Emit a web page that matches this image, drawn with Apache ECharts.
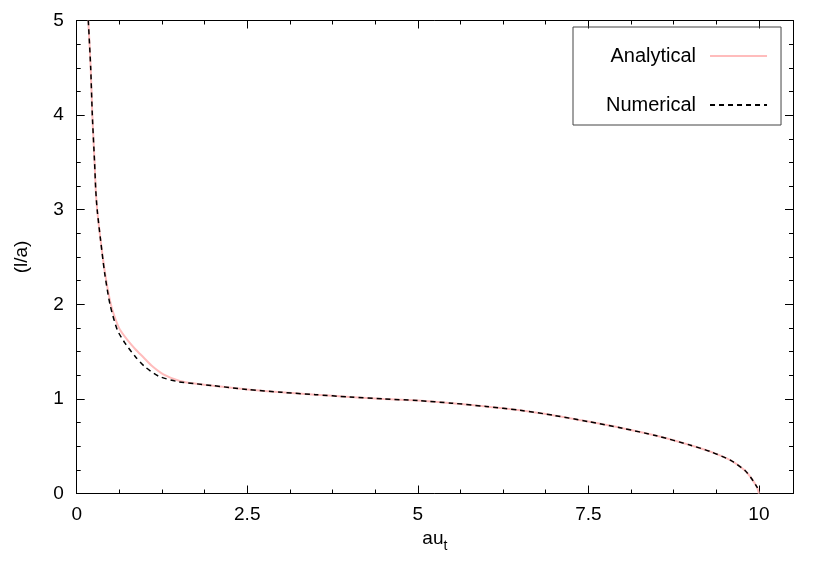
<!DOCTYPE html>
<html>
<head>
<meta charset="utf-8">
<script src="https://cdn.jsdelivr.net/npm/echarts@6/dist/echarts.min.js"></script>
<style>
html,body{margin:0;padding:0;background:#fff;}
#chart{width:830px;height:581px;}
</style>
</head>
<body>
<div id="chart"></div>
<script>
// Data
const analyticalX = [0.17, 0.205, 0.229, 0.262, 0.28, 0.30, 0.35, 0.415, 0.50, 0.565, 0.635, 0.757, 0.86, 0.977, 1.10, 1.27, 1.51, 1.75, 2.0, 2.5, 3.0, 3.5, 4.0, 4.5, 5.0, 5.5, 6.0, 6.5, 7.0, 7.5, 8.0, 8.5, 9.0, 9.3, 9.6, 9.8, 9.9, 9.97, 10.0];
const analyticalY = [5.0, 4.5, 4.0, 3.5, 3.2, 3.0, 2.68, 2.33, 2.0, 1.85, 1.73, 1.61, 1.525, 1.44, 1.35, 1.26, 1.19, 1.16, 1.14, 1.10, 1.07, 1.045, 1.02, 1.0, 0.982, 0.955, 0.92, 0.88, 0.825, 0.76, 0.69, 0.61, 0.51, 0.44, 0.345, 0.24, 0.15, 0.07, 0.0];
const numericalX = [0.17, 0.205, 0.229, 0.262, 0.28, 0.30, 0.35, 0.41, 0.488, 0.595, 0.708, 0.855, 1.0, 1.2, 1.5, 1.75, 2.0, 2.5, 3.0, 3.5, 4.0, 4.5, 5.0, 5.5, 6.0, 6.5, 7.0, 7.5, 8.0, 8.5, 9.0, 9.3, 9.6, 9.8, 9.9, 9.98];
const numericalY = [5.0, 4.5, 4.0, 3.5, 3.2, 3.0, 2.68, 2.33, 2.0, 1.73, 1.59, 1.45, 1.34, 1.24, 1.18, 1.16, 1.14, 1.10, 1.07, 1.045, 1.02, 1.0, 0.982, 0.955, 0.92, 0.88, 0.825, 0.76, 0.69, 0.61, 0.51, 0.44, 0.345, 0.24, 0.15, 0.06];
const seriesNames = ['Analytical', 'Numerical'];
const xTickValues = [0, 2.5, 5, 7.5, 10];
const yTickValues = [0, 1, 2, 3, 4, 5];

const toPairs = (xs, ys) => xs.map((x, i) => [x, ys[i]]);

const FONT = 'Liberation Sans, Arial, Helvetica, sans-serif';
const chart = echarts.init(document.getElementById('chart'), null, {renderer: 'canvas'});

const baseTick = {show: true, inside: true, length: 8, lineStyle: {color: '#000', width: 1}};
const baseMinor = {show: true, splitNumber: 4, length: 4, lineStyle: {color: '#000', width: 1}};

const option = {
  backgroundColor: '#fff',
  animation: false,
  grid: {left: 76.7, right: 37, top: 20.5, bottom: 87.5, containLabel: false},
  legend: {
    orient: 'vertical',
    left: 573,
    top: 27,
    align: 'right',
    data: seriesNames,
    itemWidth: 57,
    itemHeight: 20,
    itemGap: 29,
    padding: [19, 13, 10, 33],
    borderColor: '#444',
    borderWidth: 1,
    borderRadius: 0,
    itemStyle: {opacity: 0},
    textStyle: {fontFamily: FONT, fontSize: 20, color: '#000', padding: [0, 9, 0, 0]}
  },
  xAxis: [{
    type: 'value', min: 0, max: 10.5, interval: 2.5,
    name: '{a|au}{t|t}', nameLocation: 'middle', nameGap: 28,
    nameTextStyle: {rich: {a: {fontFamily: FONT, fontSize: 19, color: '#000', lineHeight: 20}, t: {fontFamily: FONT, fontSize: 14, color: '#000', padding: [14, 0, 0, 0]}}},
    axisLine: {show: true, onZero: false, lineStyle: {color: '#000', width: 1}},
    axisTick: baseTick,
    minorTick: baseMinor,
    splitLine: {show: false},
    axisLabel: {fontFamily: FONT, fontSize: 19, color: '#000', margin: 12,
      formatter: v => xTickValues.includes(v) ? String(v) : ''}
  }, {
    type: 'value', position: 'top', min: 0, max: 10.5, interval: 2.5,
    axisLine: {show: true, onZero: false, lineStyle: {color: '#000', width: 1}},
    axisTick: baseTick, minorTick: baseMinor,
    splitLine: {show: false}, axisLabel: {show: false}
  }],
  yAxis: [{
    type: 'value', min: 0, max: 5, interval: 1,
    name: '(l/a)', nameLocation: 'middle', nameGap: 45, nameRotate: 90,
    nameTextStyle: {fontFamily: FONT, fontSize: 19, color: '#000'},
    axisLine: {show: true, onZero: false, lineStyle: {color: '#000', width: 1}},
    axisTick: baseTick, minorTick: baseMinor,
    splitLine: {show: false},
    axisLabel: {fontFamily: FONT, fontSize: 19, color: '#000', margin: 13,
      formatter: v => yTickValues.includes(v) ? String(v) : ''}
  }, {
    type: 'value', position: 'right', min: 0, max: 5, interval: 1,
    axisLine: {show: true, onZero: false, lineStyle: {color: '#000', width: 1}},
    axisTick: baseTick, minorTick: baseMinor,
    splitLine: {show: false}, axisLabel: {show: false}
  }],
  series: [{
    name: seriesNames[0], type: 'line', showSymbol: false, symbol: 'none',
    smooth: 0.25,
    data: toPairs(analyticalX, analyticalY),
    lineStyle: {color: '#ffbcbc', width: 2}, itemStyle: {color: '#ffbcbc'}, z: 2
  }, {
    name: seriesNames[1], type: 'line', showSymbol: false, symbol: 'none',
    smooth: 0.25,
    data: toPairs(numericalX, numericalY),
    lineStyle: {color: '#000', width: 1.5, type: [5, 4]}, itemStyle: {color: '#000'}, z: 3
  }]
};
chart.setOption(option);
</script>
</body>
</html>
